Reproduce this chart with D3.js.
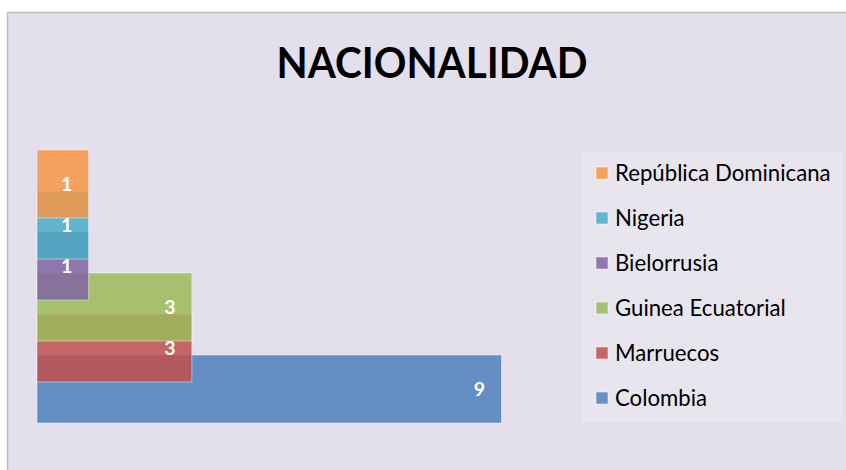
<!DOCTYPE html>
<html>
<head>
<meta charset="utf-8">
<script src="https://cdn.jsdelivr.net/npm/d3@7"></script>
<style>
  body { margin: 0; background: #fff; }
  text { font-family: Lato, "Open Sans", sans-serif; }
</style>
</head>
<body>
<svg id="chart"></svg>
<script>
// top to bottom, as shown in the chart and legend
const categories = ['República Dominicana', 'Nigeria', 'Bielorrusia', 'Guinea Ecuatorial', 'Marruecos', 'Colombia']
const values = [1, 1, 1, 3, 3, 9]
const colors = ['#f79646', '#4bacc6', '#8064a2', '#9bbb59', '#c0504d', '#4f81bd']

const width = 846
const height = 470

const svg = d3.select('#chart').attr('width', width).attr('height', height)

// chart area
svg.append('rect')
    .attr('x', 7.5).attr('y', 12.5)
    .attr('width', width).attr('height', height)
    .attr('fill', '#e4dfec')
    .attr('stroke', '#bfbfbf')
    .attr('stroke-width', 1.5)

svg.append('text')
    .attr('x', 432).attr('y', 78)
    .attr('text-anchor', 'middle')
    .attr('font-size', 42)
    .attr('font-weight', 'bold')
    .attr('fill', '#000')
    .attr('textLength', 311)
    .attr('lengthAdjust', 'spacingAndGlyphs')
    .text('NACIONALIDAD')

let data = categories.map((c, i) => ({ name: c, value: values[i], color: colors[i] }))

let x = d3.scaleLinear().domain([0, 9]).range([37, 501.5])
let y = d3.scaleBand().domain(categories).range([150, 396]).padding(0)
let barH = y.bandwidth() * 68 / 41

// back to front: Colombia first, República Dominicana on top
let bars = svg.append('g')
bars.selectAll('rect').data(data.slice().reverse()).enter()
    .append('rect')
    .attr('x', x(0))
    .attr('y', d => y(d.name))
    .attr('width', d => x(d.value) - x(0))
    .attr('height', barH)
    .attr('fill', d => d.color)
    .attr('fill-opacity', 0.85)
    .attr('stroke', '#ffffff')
    .attr('stroke-opacity', 0.45)
    .attr('stroke-width', 1)

svg.append('g').selectAll('text').data(data).enter()
    .append('text')
    .attr('x', d => x(d.value) - 22)
    .attr('y', d => y(d.name) + barH / 2)
    .attr('dy', '0.36em')
    .attr('text-anchor', 'middle')
    .attr('font-size', 19.5)
    .attr('font-weight', 'bold')
    .attr('fill', '#fff')
    .text(d => d.value)

// legend
let legend = svg.append('g')
legend.append('rect')
    .attr('x', 582).attr('y', 151)
    .attr('width', 261).attr('height', 271)
    .attr('fill', '#e8e5ee')

let ly = d3.scalePoint().domain(categories).range([173, 398])

let items = legend.selectAll('g.item').data(data).enter()
    .append('g')
    .attr('class', 'item')
    .attr('transform', d => `translate(0,${ly(d.name)})`)

items.append('rect')
    .attr('x', 596).attr('y', -6)
    .attr('width', 12).attr('height', 12)
    .attr('fill', d => d.color)
    .attr('fill-opacity', 0.85)
    .attr('stroke', '#ffffff')
    .attr('stroke-opacity', 0.5)

items.append('text')
    .attr('x', 615)
    .attr('dy', '0.36em')
    .attr('font-size', 22.2)
    .attr('fill', '#000')
    .text(d => d.name)
</script>
</body>
</html>
